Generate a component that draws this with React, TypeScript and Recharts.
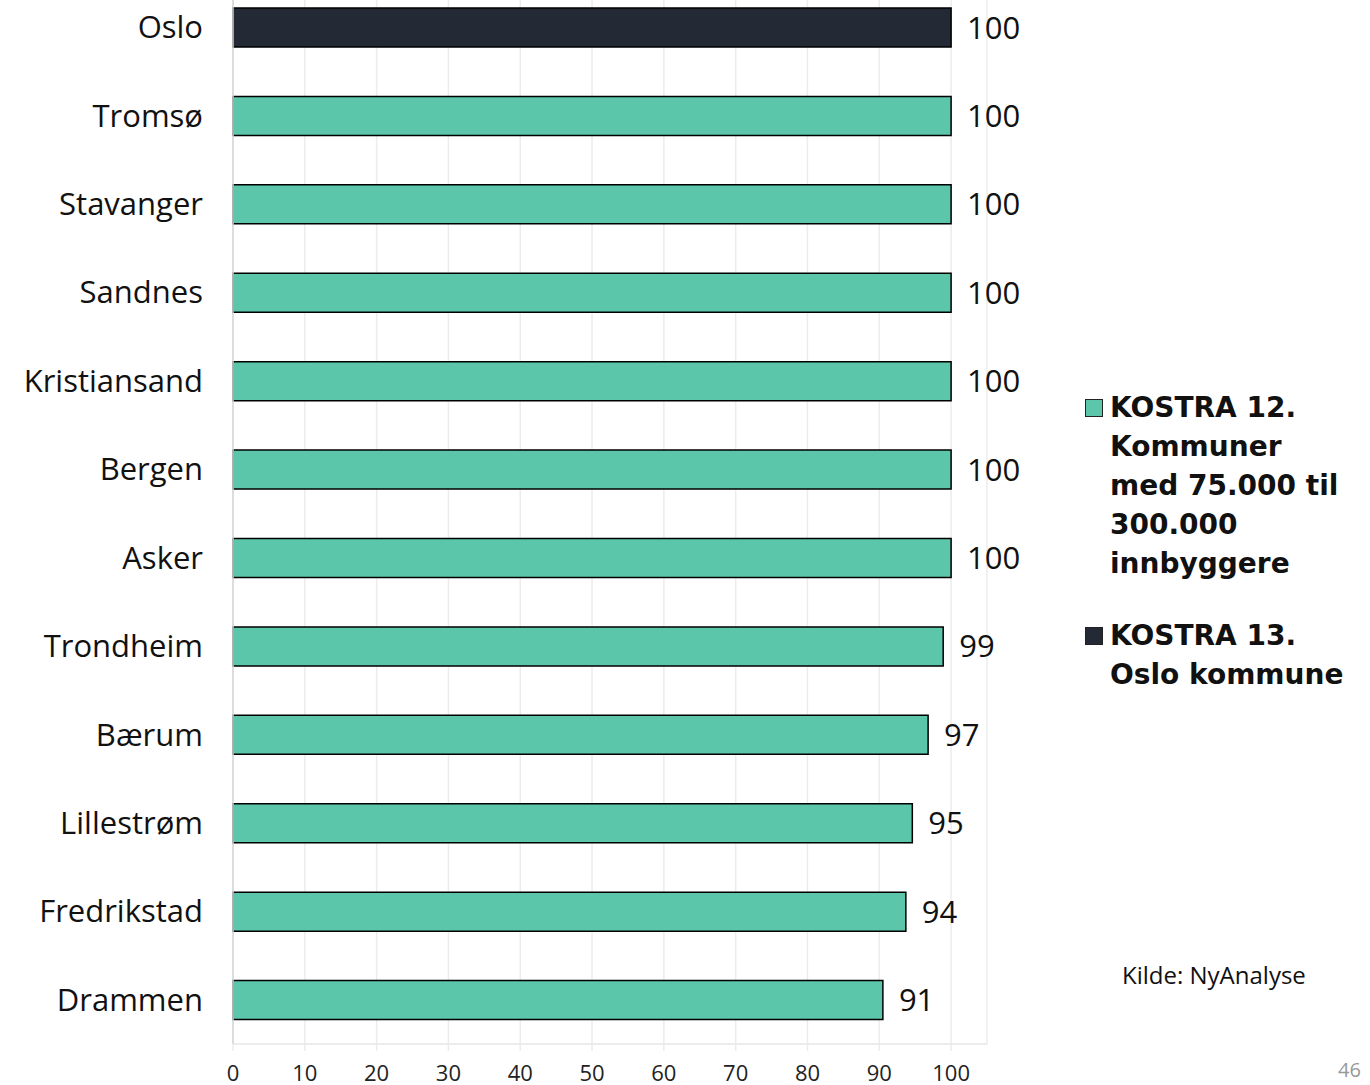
import React from 'react';
import { BarChart, Bar, XAxis, YAxis, CartesianGrid, Cell, LabelList } from 'recharts';

const categories = ['Oslo', 'Tromsø', 'Stavanger', 'Sandnes', 'Kristiansand', 'Bergen', 'Asker', 'Trondheim', 'Bærum', 'Lillestrøm', 'Fredrikstad', 'Drammen'];
const values = [100, 100, 100, 100, 100, 100, 100, 98.9, 96.8, 94.6, 93.7, 90.5];
const groups = ['oslo', 'kostra12', 'kostra12', 'kostra12', 'kostra12', 'kostra12', 'kostra12', 'kostra12', 'kostra12', 'kostra12', 'kostra12', 'kostra12'];
const xTicks = [0, 10, 20, 30, 40, 50, 60, 70, 80, 90, 100];

const legendKeys = ['kostra12', 'oslo'];
const legendLines = [
  ['KOSTRA 12.', 'Kommuner', 'med 75.000 til', '300.000', 'innbyggere'],
  ['KOSTRA 13.', 'Oslo kommune'],
];

const COLORS: Record<string, string> = { kostra12: '#5bc6aa', oslo: '#232a35' };
const FONT = '"Open Sans", sans-serif';

const data = categories.map((name, i) => ({ name, value: values[i], group: groups[i] }));

function LegendBox() {
  return (
    <div style={{ fontFamily: '"DejaVu Sans", sans-serif', fontWeight: 'bold', fontSize: 28, lineHeight: '39px', color: '#111' }}>
      {legendKeys.map((key, i) => (
        <div key={key} style={{ display: 'flex', marginBottom: 33 }}>
          <div style={{ width: 16, height: 16, background: COLORS[key], border: '1.5px solid #222', marginTop: 11, marginRight: 7, flexShrink: 0 }} />
          <div>
            {legendLines[i].map((line) => (
              <div key={line}>{line}</div>
            ))}
          </div>
        </div>
      ))}
    </div>
  );
}

export default function App() {
  return (
    <div style={{ position: 'absolute', left: 0, top: 0, width: 1370, height: 1085, overflow: 'hidden', background: '#fff', fontFamily: FONT }}>
      <div style={{ position: 'absolute', left: 0, top: -17 }}>
        <BarChart width={1370} height={1102} data={data} layout="vertical" margin={{ top: 0, right: 383, bottom: 0, left: 0 }}>
          <CartesianGrid horizontal={false} vertical={true} stroke="#ececec" strokeWidth={1.5} />
          <XAxis
            type="number"
            domain={[0, 105]}
            ticks={xTicks}
            height={41}
            axisLine={{ stroke: '#e6e6e6', strokeWidth: 1.5 }}
            tickLine={{ stroke: '#ececec', strokeWidth: 1.5 }}
            tickSize={7}
            tickMargin={14}
            tick={{ fontSize: 22, fill: '#222', fontFamily: FONT }}
          />
          <YAxis
            type="category"
            dataKey="name"
            width={233}
            tickLine={false}
            tickSize={0}
            tickMargin={30}
            axisLine={{ stroke: '#d6d6d6', strokeWidth: 1.5 }}
            tick={{ fontSize: 31, fill: '#111', fontFamily: FONT }}
          />
          <Bar dataKey="value" barSize={39} stroke="#000" strokeWidth={1.5} isAnimationActive={false}>
            {data.map((d, i) => (
              <Cell key={`cell-${i}`} fill={COLORS[d.group]} />
            ))}
            <LabelList
              dataKey="value"
              position="right"
              offset={16}
              formatter={(v: any) => Math.round(Number(v))}
              style={{ fontSize: 31, fill: '#111', fontFamily: FONT }}
            />
          </Bar>
        </BarChart>
      </div>
      <div style={{ position: 'absolute', left: 1085, top: 388, width: 285 }}>
        <LegendBox />
      </div>
      <div style={{ position: 'absolute', left: 1122, top: 958, fontSize: 24, color: '#111' }}>Kilde: NyAnalyse</div>
      <div style={{ position: 'absolute', left: 1338, top: 1056, fontSize: 20, color: '#999' }}>46</div>
    </div>
  );
}
